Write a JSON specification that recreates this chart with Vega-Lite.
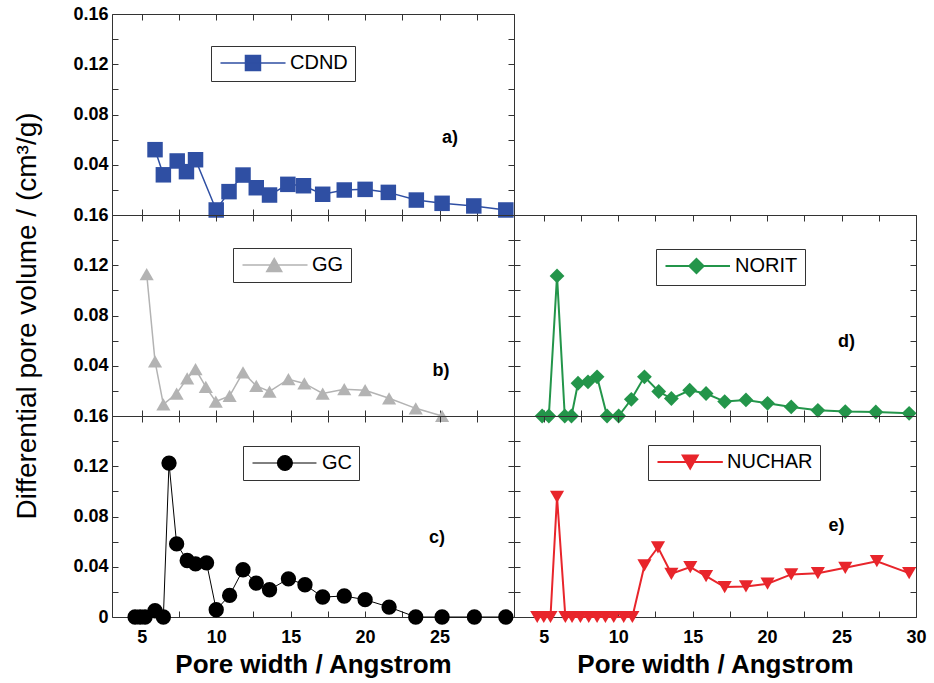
{
"$schema":"https://vega.github.io/schema/vega-lite/v6.json",
"background":"white",
"padding":{"left":13,"top":5,"right":5,"bottom":3},
"datasets":{"pores":[
{"sample":"CDND","width":5.89,"volume":0.052},{"sample":"CDND","width":6.45,"volume":0.032},{"sample":"CDND","width":7.38,"volume":0.043},{"sample":"CDND","width":8.0,"volume":0.0345},{"sample":"CDND","width":8.61,"volume":0.044},{"sample":"CDND","width":10.0,"volume":0.004},{"sample":"CDND","width":10.86,"volume":0.0186},{"sample":"CDND","width":11.8,"volume":0.0318},{"sample":"CDND","width":12.69,"volume":0.0217},{"sample":"CDND","width":13.58,"volume":0.0159},{"sample":"CDND","width":14.81,"volume":0.0244},{"sample":"CDND","width":15.86,"volume":0.0233},{"sample":"CDND","width":17.15,"volume":0.0165},{"sample":"CDND","width":18.6,"volume":0.0199},{"sample":"CDND","width":20.0,"volume":0.0204},{"sample":"CDND","width":21.56,"volume":0.018},{"sample":"CDND","width":23.44,"volume":0.0119},{"sample":"CDND","width":25.17,"volume":0.0093},{"sample":"CDND","width":27.3,"volume":0.0072},{"sample":"CDND","width":29.45,"volume":0.004},
{"sample":"GG","width":5.33,"volume":0.113},{"sample":"GG","width":5.89,"volume":0.0435},{"sample":"GG","width":6.45,"volume":0.0093},{"sample":"GG","width":7.34,"volume":0.0179},{"sample":"GG","width":8.05,"volume":0.0299},{"sample":"GG","width":8.61,"volume":0.0373},{"sample":"GG","width":9.3,"volume":0.0232},{"sample":"GG","width":9.97,"volume":0.0115},{"sample":"GG","width":10.9,"volume":0.016},{"sample":"GG","width":11.8,"volume":0.0347},{"sample":"GG","width":12.69,"volume":0.024},{"sample":"GG","width":13.58,"volume":0.0195},{"sample":"GG","width":14.85,"volume":0.0293},{"sample":"GG","width":15.92,"volume":0.0259},{"sample":"GG","width":17.15,"volume":0.0179},{"sample":"GG","width":18.6,"volume":0.0213},{"sample":"GG","width":20.0,"volume":0.0205},{"sample":"GG","width":21.61,"volume":0.0141},{"sample":"GG","width":23.4,"volume":0.0061},{"sample":"GG","width":25.17,"volume":0.0},
{"sample":"NORIT","width":4.89,"volume":0},{"sample":"NORIT","width":5.34,"volume":0},{"sample":"NORIT","width":5.89,"volume":0.1115},{"sample":"NORIT","width":6.41,"volume":0},{"sample":"NORIT","width":6.86,"volume":0},{"sample":"NORIT","width":7.3,"volume":0.0261},{"sample":"NORIT","width":7.97,"volume":0.0272},{"sample":"NORIT","width":8.58,"volume":0.0312},{"sample":"NORIT","width":9.25,"volume":0},{"sample":"NORIT","width":10.03,"volume":0},{"sample":"NORIT","width":10.88,"volume":0.0133},{"sample":"NORIT","width":11.76,"volume":0.0312},{"sample":"NORIT","width":12.72,"volume":0.0195},{"sample":"NORIT","width":13.57,"volume":0.0139},{"sample":"NORIT","width":14.8,"volume":0.0205},{"sample":"NORIT","width":15.9,"volume":0.0179},{"sample":"NORIT","width":17.15,"volume":0.0115},{"sample":"NORIT","width":18.58,"volume":0.0128},{"sample":"NORIT","width":20.03,"volume":0.0101},{"sample":"NORIT","width":21.62,"volume":0.0072},{"sample":"NORIT","width":23.41,"volume":0.0045},{"sample":"NORIT","width":25.25,"volume":0.0035},{"sample":"NORIT","width":27.3,"volume":0.0032},{"sample":"NORIT","width":29.54,"volume":0.0021},
{"sample":"GC","width":4.55,"volume":0},{"sample":"GC","width":4.89,"volume":0},{"sample":"GC","width":5.22,"volume":0},{"sample":"GC","width":5.89,"volume":0.005},{"sample":"GC","width":6.45,"volume":0},{"sample":"GC","width":6.83,"volume":0.1225},{"sample":"GC","width":7.34,"volume":0.0582},{"sample":"GC","width":8.05,"volume":0.045},{"sample":"GC","width":8.61,"volume":0.0423},{"sample":"GC","width":9.35,"volume":0.0431},{"sample":"GC","width":10.0,"volume":0.0058},{"sample":"GC","width":10.9,"volume":0.0172},{"sample":"GC","width":11.8,"volume":0.0376},{"sample":"GC","width":12.69,"volume":0.027},{"sample":"GC","width":13.58,"volume":0.0217},{"sample":"GC","width":14.85,"volume":0.0304},{"sample":"GC","width":15.96,"volume":0.0257},{"sample":"GC","width":17.15,"volume":0.0159},{"sample":"GC","width":18.6,"volume":0.0167},{"sample":"GC","width":20.0,"volume":0.0138},{"sample":"GC","width":21.61,"volume":0.0079},{"sample":"GC","width":23.4,"volume":0},{"sample":"GC","width":25.17,"volume":0},{"sample":"GC","width":27.34,"volume":0},{"sample":"GC","width":29.45,"volume":0},
{"sample":"NUCHAR","width":4.56,"volume":0},{"sample":"NUCHAR","width":5.0,"volume":0},{"sample":"NUCHAR","width":5.45,"volume":0},{"sample":"NUCHAR","width":5.89,"volume":0.0957},{"sample":"NUCHAR","width":6.45,"volume":0},{"sample":"NUCHAR","width":6.9,"volume":0},{"sample":"NUCHAR","width":7.46,"volume":0},{"sample":"NUCHAR","width":8.02,"volume":0},{"sample":"NUCHAR","width":8.58,"volume":0},{"sample":"NUCHAR","width":9.14,"volume":0},{"sample":"NUCHAR","width":9.7,"volume":0},{"sample":"NUCHAR","width":10.37,"volume":0},{"sample":"NUCHAR","width":10.95,"volume":0},{"sample":"NUCHAR","width":11.76,"volume":0.041},{"sample":"NUCHAR","width":12.67,"volume":0.0555},{"sample":"NUCHAR","width":13.57,"volume":0.0344},{"sample":"NUCHAR","width":14.84,"volume":0.0397},{"sample":"NUCHAR","width":15.9,"volume":0.0325},{"sample":"NUCHAR","width":17.15,"volume":0.0238},{"sample":"NUCHAR","width":18.58,"volume":0.0243},{"sample":"NUCHAR","width":20.03,"volume":0.0265},{"sample":"NUCHAR","width":21.62,"volume":0.0339},{"sample":"NUCHAR","width":23.41,"volume":0.0349},{"sample":"NUCHAR","width":25.25,"volume":0.0392},{"sample":"NUCHAR","width":27.37,"volume":0.0444},{"sample":"NUCHAR","width":29.54,"volume":0.0349}
]},
"columns":2,
"spacing":0,
"bounds":"flush",
"resolve":{"scale":{"color":"independent"},"legend":{"color":"independent"}},
"concat":[
{
 "width":402,"height":201,
 "data":{"name":"pores"},
 "transform":[{"filter":"datum.sample === 'CDND'"}],
 "layer":[
  {"mark":{"type":"line","strokeWidth":1.5},
   "encoding":{
    "x":{"field":"width","type":"quantitative","scale":{"domain":[3,30],"nice":false,"zero":false},"axis":{"orient":"bottom","values":[5,7.5,10,12.5,15,17.5,20,22.5,25,27.5,30],"labels":false,"title":null}},
    "y":{"field":"volume","type":"quantitative","scale":{"domain":[0,0.16],"nice":false,"zero":false},"axis":{"orient":"left","values":[0,0.02,0.04,0.06,0.08,0.1,0.12,0.14,0.16],"labelExpr":"round(datum.value*100) % 4 === 0 && datum.value > 0 ? format(datum.value,'.2f') : ''","title":null}},
    "color":{"field":"sample","type":"nominal","scale":{"range":["#2f4fa3"]},"legend":{"orient":"none","legendX":99,"legendY":32,"title":null,"padding":7,"strokeColor":"#333","fillColor":"#fff","symbolType":"M-1,0H7.67M2.33,-1H4.33V1H2.33Z","symbolSize":225,"symbolStrokeWidth":1.5,"labelFont":"Liberation Sans","labelFontSize":20,"labelFontWeight":"normal","labelColor":"#000","labelOffset":52,"labelLimit":300,"encode":{"symbols":{"update":{"fill":{"value":"#2f4fa3"},"stroke":{"value":"#2f4fa3"},"strokeWidth":{"value":1.5},"opacity":{"value":1}}}}}}
   }},
  {"mark":{"type":"point","shape":"square","filled":true,"size":240,"opacity":1,"color":"#2f4fa3"},
   "encoding":{
    "x":{"field":"width","type":"quantitative","axis":{"orient":"top","values":[5,7.5,10,12.5,15,17.5,20,22.5,25,27.5,30],"labels":false,"title":null}},
    "y":{"field":"volume","type":"quantitative","axis":{"orient":"right","values":[0,0.02,0.04,0.06,0.08,0.1,0.12,0.14,0.16],"labels":false,"title":null}}}},
  {"data":{"values":[{"tag":"a)"}]},"mark":{"type":"text","fontSize":18,"fontWeight":"bold","font":"Liberation Sans","color":"#000"},
   "encoding":{"x":{"datum":25.7,"type":"quantitative","axis":null},"y":{"datum":0.061,"type":"quantitative","axis":null},"text":{"field":"tag"}}}
 ]
},
{
 "width":402,"height":201,
 "data":{"values":[]},
 "mark":"point"
},
{
 "width":402,"height":201,
 "data":{"name":"pores"},
 "transform":[{"filter":"datum.sample === 'GG'"}],
 "layer":[
  {"mark":{"type":"line","strokeWidth":1.5},
   "encoding":{
    "x":{"field":"width","type":"quantitative","scale":{"domain":[3,30],"nice":false,"zero":false},"axis":{"orient":"bottom","values":[5,7.5,10,12.5,15,17.5,20,22.5,25,27.5,30],"labels":false,"title":null}},
    "y":{"field":"volume","type":"quantitative","scale":{"domain":[0,0.16],"nice":false,"zero":false},"axis":{"orient":"left","values":[0,0.02,0.04,0.06,0.08,0.1,0.12,0.14,0.16],"labelExpr":"round(datum.value*100) % 4 === 0 && datum.value > 0 ? format(datum.value,'.2f') : ''","title":"Differential pore volume / (cm³/g)","titleFontSize":28,"titleFontWeight":"normal","titlePadding":31}},
    "color":{"field":"sample","type":"nominal","scale":{"range":["#b3b3b3"]},"legend":{"orient":"none","legendX":121,"legendY":33,"title":null,"padding":7,"strokeColor":"#333","fillColor":"#fff","symbolType":"M-1,0H7.67M3.23,-0.87L4.23,0.87L2.23,0.87Z","symbolSize":225,"symbolStrokeWidth":1.5,"labelFont":"Liberation Sans","labelFontSize":20,"labelFontWeight":"normal","labelColor":"#000","labelOffset":52,"labelLimit":300,"encode":{"symbols":{"update":{"fill":{"value":"#b3b3b3"},"stroke":{"value":"#b3b3b3"},"strokeWidth":{"value":1.5},"opacity":{"value":1}}}}}}
   }},
  {"mark":{"type":"point","shape":"triangle-up","filled":true,"size":200,"opacity":1,"color":"#b3b3b3"},
   "encoding":{
    "x":{"field":"width","type":"quantitative","axis":{"orient":"top","values":[5,7.5,10,12.5,15,17.5,20,22.5,25,27.5,30],"labels":false,"title":null}},
    "y":{"field":"volume","type":"quantitative","axis":{"orient":"right","values":[0,0.02,0.04,0.06,0.08,0.1,0.12,0.14,0.16],"labels":false,"title":null}}}},
  {"data":{"values":[{"tag":"b)"}]},"mark":{"type":"text","fontSize":18,"fontWeight":"bold","font":"Liberation Sans","color":"#000"},
   "encoding":{"x":{"datum":25.1,"type":"quantitative","axis":null},"y":{"datum":0.036,"type":"quantitative","axis":null},"text":{"field":"tag"}}}
 ]
},
{
 "width":402,"height":201,
 "data":{"name":"pores"},
 "transform":[{"filter":"datum.sample === 'NORIT'"}],
 "layer":[
  {"mark":{"type":"line","strokeWidth":2},
   "encoding":{
    "x":{"field":"width","type":"quantitative","scale":{"domain":[3,30],"nice":false,"zero":false},"axis":{"orient":"bottom","values":[5,7.5,10,12.5,15,17.5,20,22.5,25,27.5,30],"labels":false,"title":null}},
    "y":{"field":"volume","type":"quantitative","scale":{"domain":[0,0.16],"nice":false,"zero":false},"axis":{"orient":"left","values":[0,0.02,0.04,0.06,0.08,0.1,0.12,0.14,0.16],"labels":false,"title":null}},
    "color":{"field":"sample","type":"nominal","scale":{"range":["#23954a"]},"legend":{"orient":"none","legendX":142,"legendY":34,"title":null,"padding":7,"strokeColor":"#333","fillColor":"#fff","symbolType":"M-1,0H7.6M3.13,-0.95L4.08,0L3.13,0.95L2.18,0Z","symbolSize":225,"symbolStrokeWidth":2,"labelFont":"Liberation Sans","labelFontSize":20,"labelFontWeight":"normal","labelColor":"#000","labelOffset":52,"labelLimit":300,"encode":{"symbols":{"update":{"fill":{"value":"#23954a"},"stroke":{"value":"#23954a"},"strokeWidth":{"value":2},"opacity":{"value":1}}}}}}
   }},
  {"mark":{"type":"point","shape":"diamond","filled":true,"size":220,"opacity":1,"color":"#23954a"},
   "encoding":{
    "x":{"field":"width","type":"quantitative","axis":{"orient":"top","values":[5,7.5,10,12.5,15,17.5,20,22.5,25,27.5,30],"labels":false,"title":null}},
    "y":{"field":"volume","type":"quantitative","axis":{"orient":"right","values":[0,0.02,0.04,0.06,0.08,0.1,0.12,0.14,0.16],"labels":false,"title":null}}}},
  {"data":{"values":[{"tag":"d)"}]},"mark":{"type":"text","fontSize":18,"fontWeight":"bold","font":"Liberation Sans","color":"#000"},
   "encoding":{"x":{"datum":25.33,"type":"quantitative","axis":null},"y":{"datum":0.0587,"type":"quantitative","axis":null},"text":{"field":"tag"}}}
 ]
},
{
 "width":402,"height":201,
 "data":{"name":"pores"},
 "transform":[{"filter":"datum.sample === 'GC'"}],
 "layer":[
  {"mark":{"type":"line","strokeWidth":1,"color":"#222"},
   "encoding":{
    "x":{"field":"width","type":"quantitative","scale":{"domain":[3,30],"nice":false,"zero":false},"axis":{"orient":"bottom","values":[5,7.5,10,12.5,15,17.5,20,22.5,25,27.5,30],"labelExpr":"datum.value % 5 === 0 && datum.value < 30 ? format(datum.value,'d') : ''","title":"Pore width / Angstrom","titleFontSize":26,"titleFontWeight":"bold","titlePadding":5,"labelPadding":17}},
    "y":{"field":"volume","type":"quantitative","scale":{"domain":[0,0.16],"nice":false,"zero":false},"axis":{"orient":"left","values":[0,0.02,0.04,0.06,0.08,0.1,0.12,0.14,0.16],"labelExpr":"round(datum.value*100) % 4 === 0 ? (datum.value === 0 ? '0' : format(datum.value,'.2f')) : ''","title":null}},
    "color":{"field":"sample","type":"nominal","scale":{"range":["#000000"]},"legend":{"orient":"none","legendX":131,"legendY":30,"title":null,"padding":7,"strokeColor":"#333","fillColor":"#fff","symbolType":"M-1,0H7.53M2.32,0A1,1,0,1,1,4.32,0A1,1,0,1,1,2.32,0Z","symbolSize":225,"symbolStrokeWidth":1,"labelFont":"Liberation Sans","labelFontSize":20,"labelFontWeight":"normal","labelColor":"#000","labelOffset":52,"labelLimit":300,"encode":{"symbols":{"update":{"fill":{"value":"#000000"},"stroke":{"value":"#000000"},"strokeWidth":{"value":1},"opacity":{"value":1}}}}}}
   }},
  {"mark":{"type":"point","shape":"circle","filled":true,"size":235,"opacity":1,"color":"#000000"},
   "encoding":{
    "x":{"field":"width","type":"quantitative","axis":{"orient":"top","values":[5,7.5,10,12.5,15,17.5,20,22.5,25,27.5,30],"labels":false,"title":null}},
    "y":{"field":"volume","type":"quantitative","axis":{"orient":"right","values":[0,0.02,0.04,0.06,0.08,0.1,0.12,0.14,0.16],"labels":false,"title":null}}}},
  {"data":{"values":[{"tag":"c)"}]},"mark":{"type":"text","fontSize":18,"fontWeight":"bold","font":"Liberation Sans","color":"#000"},
   "encoding":{"x":{"datum":24.82,"type":"quantitative","axis":null},"y":{"datum":0.0627,"type":"quantitative","axis":null},"text":{"field":"tag"}}}
 ]
},
{
 "width":402,"height":201,
 "data":{"name":"pores"},
 "transform":[{"filter":"datum.sample === 'NUCHAR'"}],
 "layer":[
  {"mark":{"type":"line","strokeWidth":2},
   "encoding":{
    "x":{"field":"width","type":"quantitative","scale":{"domain":[3,30],"nice":false,"zero":false},"axis":{"orient":"bottom","values":[5,7.5,10,12.5,15,17.5,20,22.5,25,27.5,30],"labelExpr":"datum.value % 5 === 0 ? format(datum.value,'d') : ''","title":"Pore width / Angstrom","titleFontSize":26,"titleFontWeight":"bold","titlePadding":5,"labelPadding":17}},
    "y":{"field":"volume","type":"quantitative","scale":{"domain":[0,0.16],"nice":false,"zero":false},"axis":{"orient":"left","values":[0,0.02,0.04,0.06,0.08,0.1,0.12,0.14,0.16],"labels":false,"title":null}},
    "color":{"field":"sample","type":"nominal","scale":{"range":["#e8252b"]},"legend":{"orient":"none","legendX":134,"legendY":29,"title":null,"padding":7,"strokeColor":"#333","fillColor":"#fff","symbolType":"M-1,0H7.71M2.36,-0.87H4.36L3.36,0.87Z","symbolSize":225,"symbolStrokeWidth":2,"labelFont":"Liberation Sans","labelFontSize":20,"labelFontWeight":"normal","labelColor":"#000","labelOffset":52,"labelLimit":300,"encode":{"symbols":{"update":{"fill":{"value":"#e8252b"},"stroke":{"value":"#e8252b"},"strokeWidth":{"value":2},"opacity":{"value":1}}}}}}
   }},
  {"mark":{"type":"point","shape":"triangle-down","filled":true,"size":200,"opacity":1,"color":"#e8252b"},
   "encoding":{
    "x":{"field":"width","type":"quantitative","axis":{"orient":"top","values":[5,7.5,10,12.5,15,17.5,20,22.5,25,27.5,30],"labels":false,"title":null}},
    "y":{"field":"volume","type":"quantitative","axis":{"orient":"right","values":[0,0.02,0.04,0.06,0.08,0.1,0.12,0.14,0.16],"labels":false,"title":null}}}},
  {"data":{"values":[{"tag":"e)"}]},"mark":{"type":"text","fontSize":18,"fontWeight":"bold","font":"Liberation Sans","color":"#000"},
   "encoding":{"x":{"datum":24.66,"type":"quantitative","axis":null},"y":{"datum":0.0727,"type":"quantitative","axis":null},"text":{"field":"tag"}}}
 ]
}
],
"config":{
 "font":"Liberation Sans",
 "view":{"stroke":null},
 "axis":{"domainColor":"#333","domainWidth":1,"tickColor":"#333","tickSize":-6,"tickWidth":1,"grid":false,"labelFont":"Liberation Sans","labelFontSize":18,"labelFontWeight":"bold","labelColor":"#000","labelPadding":10,"labelFlush":false,"labelOverlap":false,"titleFont":"Liberation Sans","titleColor":"#000"}
}
}
